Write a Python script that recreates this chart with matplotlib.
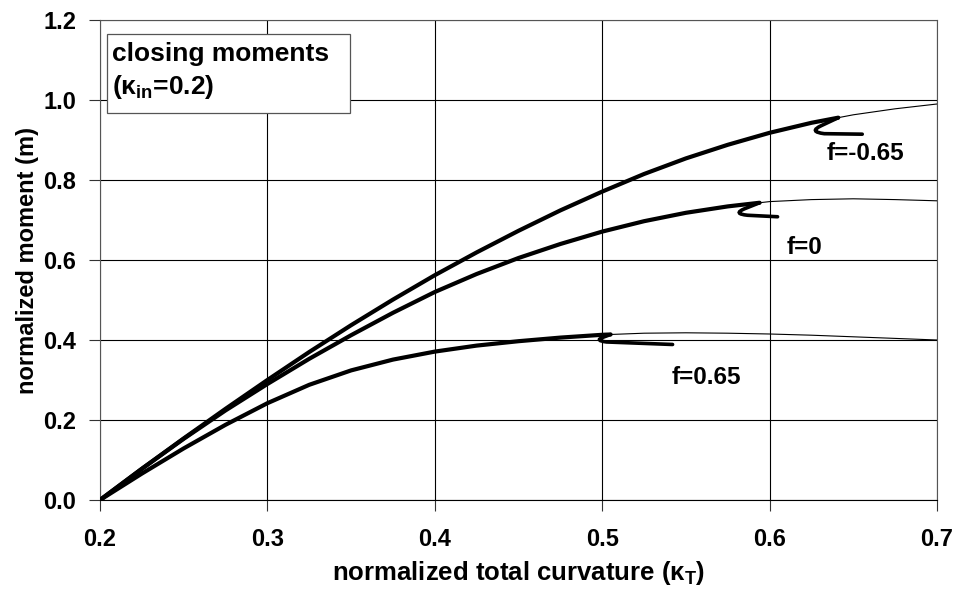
import numpy as np
import matplotlib
matplotlib.use("Agg")
import matplotlib.pyplot as plt
from matplotlib.path import Path
from matplotlib.patches import PathPatch, Rectangle
from matplotlib.transforms import Affine2D

plt.rcParams['font.family'] = ['Liberation Sans', 'DejaVu Sans']
plt.rcParams['font.weight'] = 'bold'
plt.rcParams['axes.labelweight'] = 'bold'
plt.rcParams['mathtext.fontset'] = 'custom'
plt.rcParams['mathtext.rm'] = 'Liberation Sans:bold'
plt.rcParams['mathtext.it'] = 'Liberation Sans:bold'
plt.rcParams['mathtext.bf'] = 'Liberation Sans:bold'
plt.rcParams['mathtext.default'] = 'bf'

# normalized total curvature (kappa_T)
kappa = [0.2, 0.225, 0.25, 0.275, 0.3, 0.325, 0.35, 0.375, 0.4, 0.425, 0.45,
         0.475, 0.5, 0.525, 0.55, 0.575, 0.6, 0.625, 0.65, 0.675, 0.7]

# normalized moment for each f
m_fneg = [0.0, 0.078, 0.154, 0.228, 0.300, 0.370, 0.437, 0.501, 0.562, 0.619, 0.673,
          0.724, 0.771, 0.815, 0.854, 0.888, 0.918, 0.943, 0.963, 0.978, 0.990]
m_f0 = [0.0, 0.078, 0.153, 0.224, 0.290, 0.353, 0.412, 0.468, 0.520, 0.565, 0.605,
        0.640, 0.671, 0.697, 0.718, 0.734, 0.746, 0.751, 0.753, 0.751, 0.748]
m_fpos = [0.0, 0.066, 0.129, 0.188, 0.242, 0.288, 0.324, 0.351, 0.371, 0.386, 0.397,
          0.406, 0.413, 0.417, 0.418, 0.417, 0.415, 0.412, 0.408, 0.404, 0.400]

curves = [m_fneg, m_f0, m_fpos]
labels = ['f=-0.65', 'f=0', 'f=0.65']
thick_end = [0.641, 0.594, 0.505]   # where the bold part of each curve stops
label_pos = [(0.657, 0.8675), (0.621, 0.6325), (0.562, 0.305)]

x_ticks = [0.2, 0.3, 0.4, 0.5, 0.6, 0.7]
y_ticks = [0.0, 0.2, 0.4, 0.6, 0.8, 1.0, 1.2]

# leader hooks, pixel offsets from the curve end (y down)
hooks = [
    [(0, 0), (-17, 8), (-30, 14), (-14, 16), (24, 16.5)],
    [(0, 0), (-15, 6), (-27, 11), (-12, 12.5), (18, 14)],
    [(0, 0), (-8, 3), (-16, 6), (-4, 7.5), (62, 10)],
]
codes = [Path.MOVETO, Path.LINETO, Path.CURVE3, Path.CURVE3, Path.LINETO]

fig = plt.figure(figsize=(9.57, 5.89), dpi=100)
ax = fig.add_axes([100 / 957, 1 - 500 / 589, 837 / 957, 480 / 589])

x = np.array(kappa)
for ys, xe in zip(curves, thick_end):
    y = np.array(ys)
    ax.plot(x, y, color='black', lw=0.8, zorder=3)
    ye = np.interp(xe, x, y)
    sel = x <= xe
    ax.plot(np.append(x[sel], xe), np.append(y[sel], ye), color='black',
            lw=3.0, solid_capstyle='round', solid_joinstyle='round', zorder=4)

ax.set_xlim(0.2, 0.7)
ax.set_ylim(0.0, 1.2)
ax.set_xticks(x_ticks)
ax.set_yticks(y_ticks)
ax.set_xticklabels(['%.1f' % v for v in x_ticks])
ax.set_yticklabels(['%.1f' % v for v in y_ticks])
ax.tick_params(axis='both', direction='out', length=8, width=0.8, color='#333333',
               labelsize=17)
ax.tick_params(axis='x', pad=12)
ax.tick_params(axis='y', pad=9)
ax.grid(True, color='black', lw=0.8)
ax.set_axisbelow(True)
for s in ax.spines.values():
    s.set_linewidth(0.8)
    s.set_color('#555555')
ax.spines['bottom'].set_color('black')

ax.set_xlabel(r'normalized total curvature ($\kappa_{T}$)', fontsize=18.5, labelpad=6)
ax.set_ylabel('normalized moment (m)', fontsize=17, labelpad=3)

# legend-like box in the upper left
ax.add_patch(Rectangle((0.2042, 0.9675), 0.1451, 0.1975, fc='white', ec='#555555',
                       lw=0.9, zorder=6))
ax.text(0.2072, 1.146, 'closing moments\n' + r'($\kappa_{in}$=0.2)',
        fontsize=19, va='top', ha='left', linespacing=1.35, zorder=7)

fig.canvas.draw()
for ys, xe, hk, lab, (lx, ly) in zip(curves, thick_end, hooks, labels, label_pos):
    ye = np.interp(xe, x, np.array(ys))
    px, py = ax.transData.transform((xe, ye))
    path = Path([(dx, -dy) for dx, dy in hk], codes)
    tr = Affine2D().translate(px, py)
    ax.add_patch(PathPatch(path, transform=tr, fill=False, lw=2.6,
                           capstyle='round', zorder=5))
    ax.text(lx, ly, lab, fontsize=17.5, ha='center', va='center', zorder=6)

fig.savefig('out.png', dpi=100)
